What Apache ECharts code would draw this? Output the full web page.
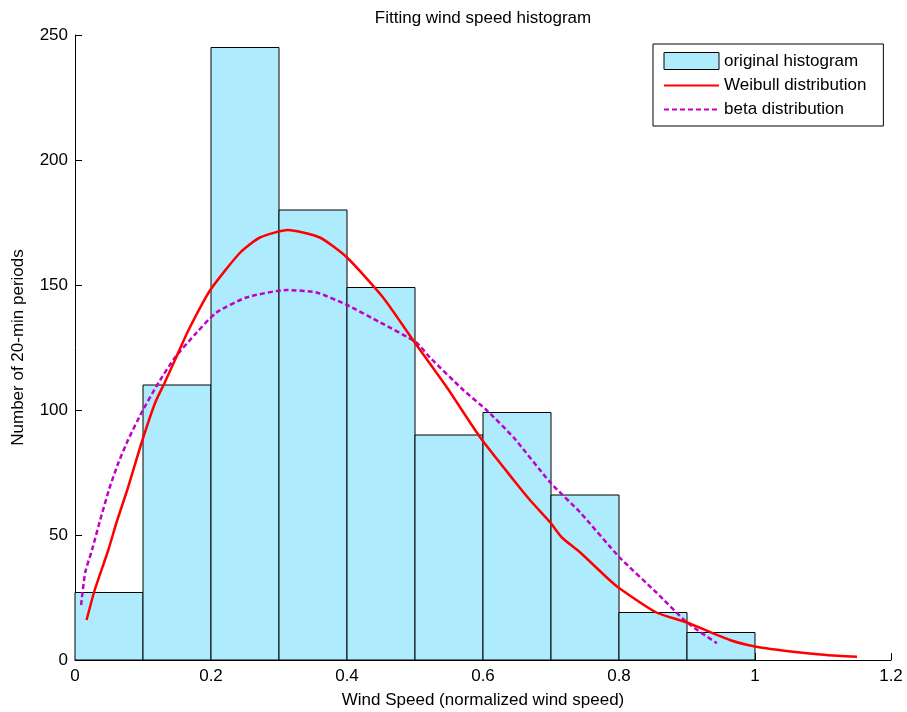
<!DOCTYPE html>
<html>
<head>
<meta charset="utf-8">
<script src="https://cdn.jsdelivr.net/npm/echarts@6/dist/echarts.min.js"></script>
<style>
  html, body { margin: 0; padding: 0; background: #fff; }
  #chart { width: 907px; height: 712px; }
</style>
</head>
<body>
<div id="chart"></div>
<script>
// Histogram bins (left edge, right edge) and counts
const binStart = [0.0, 0.1, 0.2, 0.3, 0.4, 0.5, 0.6, 0.7, 0.8, 0.9];
const binEnd   = [0.1, 0.2, 0.3, 0.4, 0.5, 0.6, 0.7, 0.8, 0.9, 1.0];
const counts   = [27, 110, 245, 180, 149, 90, 99, 66, 19, 11];

// Fitted Weibull curve
const weibullX = [0.017, 0.029, 0.049, 0.061, 0.078, 0.098, 0.118, 0.132, 0.147, 0.167,
                  0.199, 0.243, 0.272, 0.313, 0.360, 0.400, 0.453, 0.497, 0.547, 0.596,
                  0.645, 0.669, 0.699, 0.716, 0.743, 0.782, 0.799, 0.855, 0.900, 0.963,
                  1.002, 1.056, 1.105, 1.150];
const weibullY = [16, 28, 44, 55, 69, 87, 103, 111, 120, 132,
                  148, 163, 169, 172, 169, 161, 145, 128, 109, 89,
                  72, 64, 55, 49, 43, 33, 29, 19, 15, 8,
                  5.3, 3.3, 2, 1.3];

// Fitted beta curve
const betaX = [0.009, 0.015, 0.025, 0.037, 0.051, 0.064, 0.078, 0.098, 0.123, 0.147,
               0.179, 0.208, 0.252, 0.311, 0.355, 0.400, 0.449, 0.502, 0.522, 0.571,
               0.605, 0.645, 0.699, 0.743, 0.801, 0.855, 0.900, 0.944];
const betaY = [22, 35, 44, 56, 69, 79, 88, 99, 111, 121,
               131, 139, 145, 148, 147, 142, 135, 127, 121, 108,
               100, 89, 71, 59, 41, 27, 15, 6.7];

// Axis ticks
const xTicks = { min: 0, max: 1.2, interval: 0.2 };
const yTicks = { min: 0, max: 250, interval: 50 };

const FONT = 'Arial, "Liberation Sans", Helvetica, sans-serif';
const FS = 17;

const histData = binStart.map((s, i) => [s, binEnd[i], counts[i]]);
const weibullData = weibullX.map((x, i) => [x, weibullY[i]]);
const betaData = betaX.map((x, i) => [x, betaY[i]]);

const chart = echarts.init(document.getElementById('chart'), null, { renderer: 'canvas' });

chart.setOption({
  animation: false,
  backgroundColor: '#ffffff',
  textStyle: { fontFamily: FONT },
  title: {
    text: 'Fitting wind speed histogram',
    left: 478,
    textAlign: 'center',
    top: 5,
    textStyle: { fontFamily: FONT, fontSize: 17, fontWeight: 'normal', color: '#000' }
  },
  grid: { left: 75, right: 16, top: 35, bottom: 52, containLabel: false, outerBoundsMode: 'none' },
  xAxis: {
    type: 'value',
    min: xTicks.min, max: xTicks.max, interval: xTicks.interval,
    name: 'Wind Speed (normalized wind speed)',
    nameLocation: 'middle',
    nameGap: 32,
    nameTextStyle: { fontFamily: FONT, fontSize: FS, color: '#000' },
    axisLine: { show: true, lineStyle: { color: '#000', width: 1 } },
    axisTick: { show: true, inside: true, length: 7, lineStyle: { color: '#000' } },
    axisLabel: { fontFamily: FONT, fontSize: FS, color: '#000', margin: 8 },
    splitLine: { show: false }
  },
  yAxis: {
    type: 'value',
    min: yTicks.min, max: yTicks.max, interval: yTicks.interval,
    name: 'Number of 20-min periods',
    nameLocation: 'middle',
    nameGap: 48,
    nameTextStyle: { fontFamily: FONT, fontSize: FS, color: '#000' },
    axisLine: { show: true, lineStyle: { color: '#000', width: 1 } },
    axisTick: { show: true, inside: true, length: 7, lineStyle: { color: '#000' } },
    axisLabel: { fontFamily: FONT, fontSize: FS, color: '#000', margin: 7 },
    splitLine: { show: false }
  },
  legend: {
    orient: 'vertical',
    left: 653,
    top: 44,
    padding: [8, 17, 8, 10],
    itemWidth: 55,
    itemHeight: 17,
    itemGap: 7,
    borderColor: '#000',
    borderWidth: 1,
    backgroundColor: '#fff',
    textStyle: { fontFamily: FONT, fontSize: FS, color: '#000' },
    data: [
      { name: 'original histogram', icon: 'rect',
        itemStyle: { color: '#aeebfc', borderColor: '#000', borderWidth: 1 } },
      { name: 'Weibull distribution', itemStyle: { opacity: 0 } },
      { name: 'beta distribution', itemStyle: { opacity: 0 } }
    ]
  },
  series: [
    {
      name: 'original histogram',
      type: 'custom',
      data: histData,
      encode: { x: [0, 1], y: 2 },
      itemStyle: { color: '#aeebfc', borderColor: '#000', borderWidth: 1 },
      renderItem: function (params, api) {
        const p0 = api.coord([api.value(0), api.value(2)]);
        const p1 = api.coord([api.value(1), 0]);
        return {
          type: 'rect',
          shape: { x: p0[0], y: p0[1], width: p1[0] - p0[0], height: p1[1] - p0[1] },
          style: { fill: '#aeebfc', stroke: '#000', lineWidth: 1 }
        };
      },
      z: 1
    },
    {
      name: 'Weibull distribution',
      type: 'line',
      data: weibullData,
      showSymbol: false,
      symbol: 'none',
      smooth: 0.2,
      itemStyle: { color: '#ff0000' },
      lineStyle: { color: '#ff0000', width: 2.5 },
      z: 3
    },
    {
      name: 'beta distribution',
      type: 'line',
      data: betaData,
      showSymbol: false,
      symbol: 'none',
      smooth: 0.2,
      itemStyle: { color: '#c000c8' },
      lineStyle: { color: '#c000c8', width: 2.5, type: [5, 3] },
      z: 2
    }
  ]
});
</script>
</body>
</html>
